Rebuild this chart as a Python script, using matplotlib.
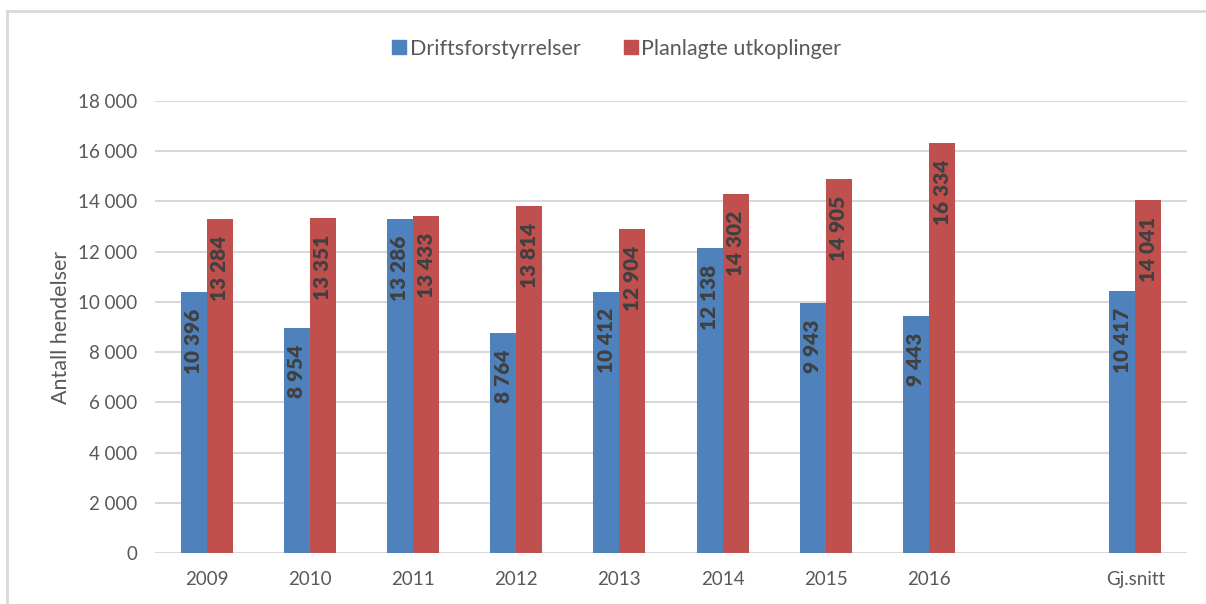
import matplotlib
matplotlib.use("Agg")
import matplotlib.pyplot as plt
import numpy as np
from matplotlib.lines import Line2D

plt.rcParams['font.family'] = ['Lato', 'DejaVu Sans']

categories = ['2009', '2010', '2011', '2012', '2013', '2014', '2015', '2016', '', 'Gj.snitt']
drift = [10396, 8954, 13286, 8764, 10412, 12138, 9943, 9443, None, 10417]
planlagt = [13284, 13351, 13433, 13814, 12904, 14302, 14905, 16334, None, 14041]
series_names = ['Driftsforstyrrelser', 'Planlagte utkoplinger']
yticks = [0, 2000, 4000, 6000, 8000, 10000, 12000, 14000, 16000, 18000]

blue = '#4F81BD'
red = '#C0504D'
txt = '#595959'
grid = '#D9D9D9'

fig = plt.figure(figsize=(12.06, 6.04), dpi=100)
ax = fig.add_axes([155/1206, 1-553/604, 1032/1206, (553-101)/604])

x = np.arange(len(categories))
w = 0.252

def fmt(v):
    return f"{v:,}".replace(',', ' ')

for vals, off, col, name in [(drift, -w/2, blue, series_names[0]), (planlagt, w/2, red, series_names[1])]:
    xs = [xi + off for xi, v in zip(x, vals) if v is not None]
    vs = [v for v in vals if v is not None]
    ax.bar(xs, vs, width=w, color=col, zorder=3, label=name)
    for xi, v in zip(xs, vs):
        ax.annotate(fmt(v), (xi, v), xytext=(0, -12), textcoords='offset points',
                    rotation=90, ha='center', va='top', fontsize=15, fontweight='heavy',
                    color='#404040', zorder=4)

ax.set_xlim(-0.5, len(categories) - 0.5)
ax.set_ylim(0, 18000)
ax.set_yticks(yticks)
ax.set_yticklabels([fmt(t) for t in yticks], fontsize=13.5, color=txt)
ax.set_xticks(x)
ax.set_xticklabels(categories, fontsize=13.5, color=txt)
ax.tick_params(axis='y', length=0, pad=13)
ax.tick_params(axis='x', length=0, pad=13)
ax.grid(axis='y', color=grid, linewidth=1.5, zorder=0)
for s in ax.spines.values():
    s.set_visible(False)
ax.set_ylabel('Antall hendelser', fontsize=15.5, color=txt, labelpad=5)

handles = [Line2D([], [], marker='s', linestyle='none', markersize=10, color=blue),
           Line2D([], [], marker='s', linestyle='none', markersize=10, color=red)]
fig.legend(handles, series_names, loc='center', bbox_to_anchor=(615/1206, 1-49/604),
           ncol=2, frameon=False, fontsize=15.5, labelcolor=txt, handletextpad=0.0,
           columnspacing=1.8, handlelength=1.0)

# outer frame lines
fig.add_artist(Line2D([7/1206, 7/1206], [0, 1-11/604], color=grid, linewidth=2, transform=fig.transFigure))
fig.add_artist(Line2D([7/1206, 1], [1-11/604, 1-11/604], color=grid, linewidth=2, transform=fig.transFigure))

fig.savefig('out.png', dpi=100)
